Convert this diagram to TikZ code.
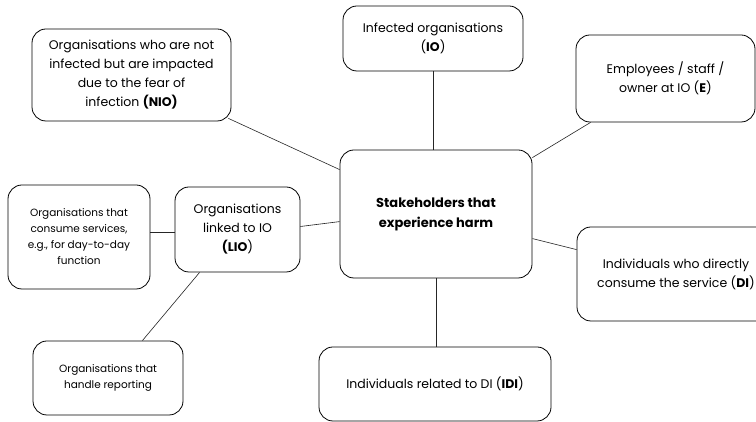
\documentclass[tikz,border=0pt]{standalone}
\usepackage{fontspec}
\setmainfont{Poppins}
\usetikzlibrary{calc}
\begin{document}
\begin{tikzpicture}[x=1pt,y=1pt,
  box/.style={draw=black, line width=0.8pt, rounded corners=14pt, align=center, inner sep=2pt, font=\fontsize{12.5}{19}\selectfont},
  smallbox/.style={box, font=\fontsize{10.5}{16}\selectfont},
  link/.style={draw=black!85, line width=0.6pt}]
\clip (0,0) rectangle (756,422);
\fill[white] (0,0) rectangle (756,422);
\node[box, minimum width=192pt, minimum height=128pt, font=\bfseries\fontsize{13}{20}\selectfont] (ctr) at (436,208) {Stakeholders that\\experience harm};
\node[box, minimum width=199pt, minimum height=92pt] (nio) at (131.5,347) {Organisations who are not\\infected but are impacted\\due to the fear of\\infection \textbf{(NIO)}};
\node[box, minimum width=180pt, minimum height=65pt] (io) at (433,383.5) {Infected organisations\\(\textbf{IO})};
\node[box, minimum width=179pt, minimum height=87pt] (e) at (665.5,343.5) {Employees / staff /\\owner at IO (\textbf{E})};
\node[smallbox, minimum width=142pt, minimum height=104pt] (cons) at (79,185) {Organisations that\\consume services,\\e.g., for day-to-day\\function};
\node[box, minimum width=125pt, minimum height=85pt] (lio) at (237.5,192.5) {Organisations\\linked to IO\\\textbf{(LIO})};
\node[smallbox, minimum width=150pt, minimum height=74pt] (rep) at (108,44) {Organisations that\\handle reporting};
\node[box, minimum width=232pt, minimum height=74pt] (idi) at (435,38) {Individuals related to DI (\textbf{IDI})};
\node[box, minimum width=198pt, minimum height=94pt] (di) at (676,148) {Individuals who directly\\consume the service (\textbf{DI})};
\draw[link] ([shift={(-3,3)}]nio.south east) -- ([yshift=-20]ctr.north west);
\draw[link] (io.south) -- (io.south |- ctr.north);
\draw[link] ([xshift=15]e.south west) -- ([yshift=-8]ctr.north east);
\draw[link] (lio.west |- 0,190) -- (cons.east |- 0,190);
\draw[link] ([yshift=3]lio.east) -- ([yshift=-72]ctr.north west);
\draw[link] ([xshift=25]lio.south west) -- ([xshift=-41]rep.north east);
\draw[link] ([yshift=-89]ctr.north east) -- ([yshift=-23]di.north west);
\draw[link] (ctr.south) -- (ctr.south |- idi.north);
\end{tikzpicture}
\end{document}
